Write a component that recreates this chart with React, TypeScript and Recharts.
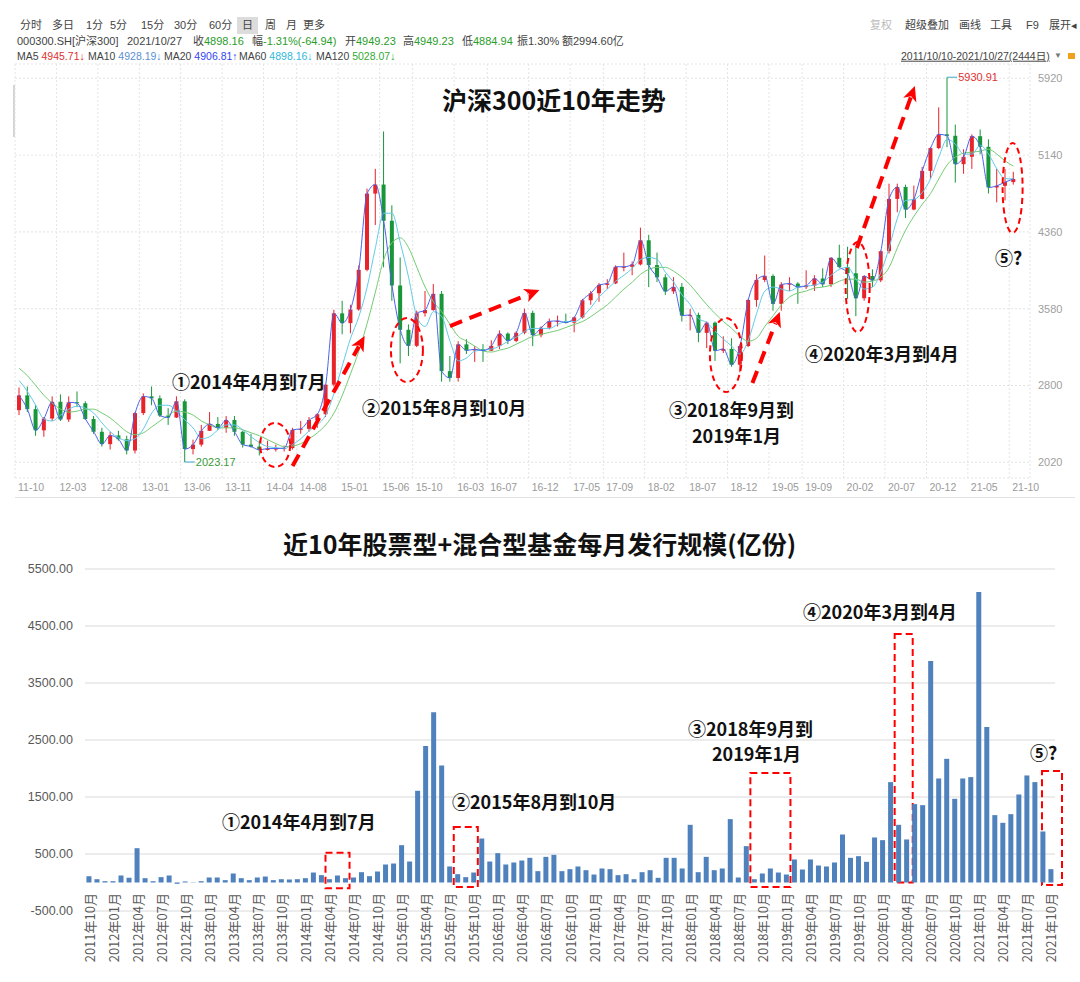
import React from "react";
import {
  ComposedChart,
  BarChart,
  Bar,
  Line,
  XAxis,
  YAxis,
  CartesianGrid,
  ReferenceLine,
  ReferenceDot,
  ReferenceArea,
} from "recharts";

// ---------- top chart: CSI 300, one candle per month (2011-10 .. 2021-10) ----------
const OPEN = [
  2550, 2700, 2560, 2345, 2465, 2635, 2455, 2630, 2620, 2460,
  2330, 2205, 2293, 2254, 2140, 2520, 2690, 2670, 2495, 2475,
  2640, 2155, 2200, 2340, 2410, 2370, 2450, 2330, 2200, 2180,
  2146, 2160, 2160, 2165, 2350, 2360, 2450, 2508, 2809, 3533,
  3434, 3572, 3975, 4749, 4841, 4473, 3816, 3366, 3203, 3534,
  3566, 3731, 2946, 2877, 3218, 3156, 3169, 3154, 3203, 3327,
  3253, 3336, 3538, 3311, 3387, 3452, 3456, 3439, 3492, 3666,
  3737, 3822, 3837, 4006, 4006, 4030, 4275, 4023, 3899, 3756,
  3802, 3510, 3517, 3335, 3438, 3153, 3172, 3011, 3201, 3669,
  3872, 3913, 3629, 3826, 3835, 3799, 3814, 3887, 3828, 4097,
  4003, 3940, 3686, 3912, 3868, 4164, 4695, 4816, 4587, 4695,
  4980, 5211, 5351, 5336, 5048, 5123, 5332, 5224, 4811, 4828,
  4866,
];
const HIGH = [
  2780, 2790, 2600, 2480, 2690, 2710, 2690, 2740, 2640, 2490,
  2370, 2330, 2340, 2290, 2530, 2720, 2790, 2700, 2570, 2690,
  2660, 2250, 2400, 2530, 2480, 2490, 2490, 2340, 2310, 2240,
  2240, 2200, 2190, 2370, 2440, 2480, 2520, 2810, 3570, 3660,
  3620, 4020, 4800, 5000, 5380, 4630, 4100, 3420, 3560, 3760,
  3830, 3760, 3100, 3250, 3270, 3200, 3220, 3260, 3360, 3340,
  3350, 3580, 3560, 3400, 3480, 3510, 3530, 3500, 3680, 3760,
  3840, 3880, 4020, 4150, 4060, 4403, 4330, 4150, 3930, 3900,
  3840, 3580, 3540, 3450, 3450, 3300, 3280, 3220, 3680, 3930,
  4120, 3930, 3850, 3900, 3850, 3970, 3920, 3990, 4100, 4230,
  4210, 4200, 3920, 3980, 4170, 4850, 4850, 4840, 4830, 5020,
  5220, 5625, 5930.91, 5450, 5200, 5350, 5400, 5300, 5000, 5000,
  4970,
];
const LOW = [
  2500, 2530, 2290, 2280, 2440, 2440, 2430, 2580, 2450, 2310,
  2180, 2150, 2240, 2100, 2110, 2500, 2600, 2480, 2400, 2470,
  2023.17, 2100, 2180, 2340, 2350, 2320, 2290, 2170, 2170, 2090,
  2140, 2130, 2130, 2150, 2310, 2330, 2370, 2480, 2790, 3320,
  3330, 3560, 3960, 4430, 4000, 3660, 3025, 3100, 3190, 3500,
  3560, 2840, 2840, 2840, 3120, 3040, 3040, 3150, 3170, 3220,
  3240, 3320, 3200, 3290, 3370, 3400, 3430, 3340, 3480, 3620,
  3650, 3780, 3830, 3960, 3920, 4020, 3800, 3850, 3720, 3730,
  3450, 3360, 3240, 3180, 3050, 3130, 2990, 2935, 3190, 3600,
  3850, 3560, 3560, 3760, 3630, 3780, 3760, 3800, 3800, 3990,
  3680, 3504, 3660, 3800, 3850, 4140, 4560, 4500, 4580, 4690,
  4900, 5200, 5220, 4860, 4950, 5000, 5150, 4750, 4660, 4680,
  4840,
];
const CLOSE = [
  2700, 2560, 2345, 2465, 2635, 2455, 2630, 2620, 2460, 2330,
  2205, 2293, 2254, 2140, 2520, 2690, 2670, 2495, 2475, 2640,
  2155, 2200, 2340, 2410, 2370, 2450, 2330, 2200, 2180, 2146,
  2160, 2160, 2165, 2350, 2360, 2450, 2508, 2809, 3533, 3434,
  3572, 3975, 4749, 4841, 4473, 3816, 3366, 3203, 3534, 3566,
  3731, 2946, 2877, 3218, 3156, 3169, 3154, 3203, 3327, 3253,
  3336, 3538, 3311, 3387, 3452, 3456, 3439, 3492, 3666, 3737,
  3822, 3837, 4006, 4006, 4030, 4275, 4023, 3899, 3756, 3802,
  3510, 3517, 3335, 3438, 3153, 3172, 3011, 3201, 3669, 3872,
  3913, 3629, 3826, 3835, 3799, 3814, 3887, 3828, 4097, 4003,
  3940, 3686, 3912, 3868, 4164, 4695, 4816, 4587, 4695, 4980,
  5211, 5351, 5336, 5048, 5123, 5332, 5224, 4811, 4828, 4866,
  4898.16,
];
const MA60 = [
  2850, 2740, 2600, 2460, 2440, 2500, 2560, 2590, 2570, 2520,
  2420, 2330, 2270, 2240, 2260, 2360, 2520, 2600, 2600, 2540,
  2450, 2370, 2260, 2280, 2350, 2400, 2400, 2350, 2280, 2220,
  2180, 2170, 2160, 2200, 2260, 2340, 2400, 2500, 2720, 3000,
  3280, 3500, 3800, 4200, 4550, 4550, 4250, 3900, 3500, 3400,
  3550, 3500, 3250, 3050, 3080, 3150, 3160, 3170, 3200, 3250,
  3290, 3350, 3380, 3380, 3380, 3420, 3450, 3450, 3500, 3590,
  3700, 3780, 3860, 3920, 3990, 4080, 4100, 4080, 3950, 3850,
  3720, 3620, 3480, 3440, 3350, 3270, 3200, 3120, 3260, 3530,
  3760, 3800, 3780, 3760, 3800, 3810, 3820, 3850, 3920, 3980,
  4000, 3880, 3780, 3800, 3950, 4200, 4500, 4680, 4690, 4760,
  4900, 5120, 5300, 5250, 5150, 5150, 5240, 5150, 5000, 4900,
  4898,
];
const MA120 = [
  2975, 2900, 2800, 2700, 2620, 2560, 2530, 2540, 2560, 2560,
  2520, 2470, 2400, 2330, 2300, 2320, 2380, 2440, 2500, 2540,
  2530, 2500, 2440, 2400, 2370, 2370, 2370, 2350, 2320, 2290,
  2250, 2210, 2180, 2185, 2210, 2260, 2320, 2400, 2520, 2700,
  2920, 3150, 3430, 3750, 4080, 4250, 4300, 4200, 4000, 3800,
  3650, 3550, 3420, 3300, 3250, 3200, 3150, 3140, 3160, 3180,
  3220, 3260, 3300, 3320, 3340, 3360, 3390, 3420, 3450, 3500,
  3560, 3620, 3700, 3780, 3850, 3930, 3980, 4000, 4000, 3960,
  3900, 3820, 3720, 3620, 3530, 3450, 3380, 3300, 3250, 3280,
  3400, 3510, 3620, 3700, 3740, 3760, 3790, 3800, 3820, 3860,
  3880, 3880, 3850, 3860, 3900, 4000, 4200, 4380, 4520, 4640,
  4750, 4900, 5040, 5120, 5160, 5170, 5180, 5200, 5150, 5080,
  5028.07,
];
const TOP_TICK_IDX = [0, 5, 10, 15, 20, 25, 30, 34, 39, 44, 48, 53, 57, 62, 67, 71, 76, 81, 86, 91, 95, 100, 105, 110, 115, 120];
const TOP_TICK_LABELS = [
  "11-10", "12-03", "12-08", "13-01", "13-06", "13-11", "14-04", "14-08", "15-01", "15-06", "15-10", "16-03", "16-07",
  "16-12", "17-05", "17-09", "18-02", "18-07", "18-12", "19-05", "19-09", "20-02", "20-07", "20-12", "21-05", "21-10",
];
const PRICE_TICKS = [2020, 2800, 3580, 4360, 5140, 5920];

// ---------- bottom chart: monthly issuance (亿份) ----------
const ISSUE = [
  110, 58, 23,
  23, 123, 82, 602, 76, 23, 94, 123, -23, 18, 5, 23,
  88, 88, 41, 158, 76, 41, 88, 105, 41, 58, 53, 58,
  76, 175, 129, 58, 123, 76, 88, 181, 111, 193, 316, 333,
  655, 368, 1609, 2393, 2989, 2053, 281, 146, 94, 175, 772, 368,
  515, 316, 351, 386, 433, 199, 450, 485, 199, 234, 281, 216,
  140, 246, 234, 129, 146, 58, 181, 216, 82, 433, 433, 246,
  1012, 181, 450, 216, 246, 1112, 88, 638, 58, 158, 246, 175,
  140, 404, 228, 404, 298, 281, 351, 842, 433, 462, 363, 790,
  743, 1761, 1012, 755, 1375, 1357, 3884, 1825, 2170, 1468, 1825, 1849,
  5095, 2726, 1182, 1047, 1199, 1544, 1878, 1761, 895, 234,
];
const ISSUE_TICKS = [-500, 500, 1500, 2500, 3500, 4500, 5500];

const MONTHS: string[] = [];
for (let k = 0; k < ISSUE.length; k++) {
  const t = 2011 * 12 + 9 + k;
  const yy = Math.floor(t / 12);
  const mm = (t % 12) + 1;
  MONTHS.push(`${yy}年${mm < 10 ? "0" + mm : mm}月`);
}

const priceData = CLOSE.map((c, i) => ({
  i,
  open: OPEN[i],
  high: HIGH[i],
  low: LOW[i],
  close: c,
  range: [LOW[i], HIGH[i]],
  ma60: MA60[i],
  ma120: MA120[i],
}));
const issueData = MONTHS.map((m, i) => ({ m, v: ISSUE[i] }));

const CJK = '"Noto Sans CJK SC", "Noto Sans", sans-serif';
const UI = '"Liberation Sans", "Noto Sans CJK SC", sans-serif';
const RED = "#ff0000";

const Candle = (props: any) => {
  const { x, y, width, height, payload } = props;
  if (!payload || height == null || isNaN(y)) return null;
  const top = Math.min(y, y + height);
  const h = Math.abs(height);
  const span = payload.high - payload.low || 1;
  const toY = (v: number) => top + ((payload.high - v) / span) * h;
  const up = payload.close >= payload.open;
  const color = up ? "#e8232a" : "#17963a";
  const cx = x + width / 2;
  const yo = toY(payload.open);
  const yc = toY(payload.close);
  return (
    <g>
      <line x1={cx} x2={cx} y1={top} y2={top + h} stroke={color} strokeWidth={1} />
      <rect x={x} y={Math.min(yo, yc)} width={width} height={Math.max(1, Math.abs(yo - yc))} fill={color} />
    </g>
  );
};

const DashArrow = (props: any) => {
  const { x1, y1, x2, y2 } = props;
  if ([x1, y1, x2, y2].some((v) => typeof v !== "number" || isNaN(v))) return null;
  const len = Math.hypot(x2 - x1, y2 - y1);
  const ux = (x2 - x1) / len;
  const uy = (y2 - y1) / len;
  const bx = x2 - ux * 15;
  const by = y2 - uy * 15;
  const pts = `${x2},${y2} ${bx - uy * 7},${by + ux * 7} ${bx + ux * 4},${by + uy * 4} ${bx + uy * 7},${by - ux * 7}`;
  return (
    <g>
      <line x1={x1} y1={y1} x2={bx + ux * 3} y2={by + uy * 3} stroke={RED} strokeWidth={4} strokeDasharray="13 8" />
      <polygon points={pts} fill={RED} />
    </g>
  );
};

const ellipse = (rx: number, ry: number) => (p: any) =>
  <ellipse cx={p.cx} cy={p.cy} rx={rx} ry={ry} fill="none" stroke={RED} strokeWidth={2} strokeDasharray="6 4" />;

const DashBox = (dx: number, dw: number) => (p: any) =>
  <rect x={p.x + dx} y={p.y} width={p.width + dw} height={p.height} fill="none" stroke={RED} strokeWidth={2} strokeDasharray="7 4" />;

const TopTick = (props: any) => {
  const { x, y, payload } = props;
  const idx = TOP_TICK_IDX.indexOf(Math.round(payload.value + 0.5));
  return (
    <text x={x + 3} y={y + 13} textAnchor="start" fontSize={10.5} fill="#9a9a9a" fontFamily="Liberation Sans Narrow, Liberation Sans, sans-serif">
      {TOP_TICK_LABELS[idx]}
    </text>
  );
};

const BottomTick = (props: any) => {
  const { x, y, payload } = props;
  const ty = y - 18;
  return (
    <text x={x} y={ty} transform={`rotate(-90 ${x} ${ty})`} textAnchor="end" dominantBaseline="central" fontSize={13} fill="#595959" fontFamily={CJK}>
      {payload.value}
    </text>
  );
};

const T = ({ x, y, c = "#444", s = 11, w = 400, u = false, f = UI, children }: any) => (
  <div
    style={{
      position: "absolute",
      left: x,
      top: y,
      transform: "translateY(-50%)",
      color: c,
      fontSize: s,
      fontWeight: w,
      fontFamily: f,
      whiteSpace: "nowrap",
      lineHeight: 1.2,
      textDecoration: u ? "underline" : "none",
      zIndex: 5,
    }}
  >
    {children}
  </div>
);

const Note = ({ x, y, children }: any) => (
  <T x={x} y={y} c="#111" s={18} w={700} f={CJK}>
    {children}
  </T>
);

export default function App() {
  const green = "#2a9d2a";
  return (
    <div style={{ position: "relative", width: 1080, height: 982, background: "#fff", overflow: "hidden" }}>
      <style>{"body{margin:0}"}</style>

      {/* toolbar rows */}
      <T x={20} y={26}>分时</T>
      <T x={52} y={26}>多日</T>
      <T x={86} y={26}>1分</T>
      <T x={110} y={26}>5分</T>
      <T x={141} y={26}>15分</T>
      <T x={174} y={26}>30分</T>
      <T x={209} y={26}>60分</T>
      <div style={{ position: "absolute", left: 237, top: 17, width: 21, height: 17, background: "#dcdcdc" }} />
      <T x={242} y={26}>日</T>
      <T x={265} y={26}>周</T>
      <T x={286} y={26}>月</T>
      <T x={303} y={26}>更多</T>
      <T x={870} y={26} c="#bbb">复权</T>
      <T x={905} y={26}>超级叠加</T>
      <T x={959} y={26}>画线</T>
      <T x={990} y={26}>工具</T>
      <T x={1026} y={26}>F9</T>
      <T x={1049} y={26}>展开◂</T>

      <T x={17} y={42}>000300.SH[沪深300]</T>
      <T x={127} y={42}>2021/10/27</T>
      <T x={193} y={42}>收<span style={{ color: green }}>4898.16</span></T>
      <T x={252} y={42}>幅<span style={{ color: green }}>-1.31%(-64.94)</span></T>
      <T x={345} y={42}>开<span style={{ color: green }}>4949.23</span></T>
      <T x={403} y={42}>高<span style={{ color: green }}>4949.23</span></T>
      <T x={462} y={42}>低<span style={{ color: green }}>4884.94</span></T>
      <T x={517} y={42}>振1.30%</T>
      <T x={562} y={42}>额2994.60亿</T>

      <T x={17} y={56} s={10.5}>MA5 <span style={{ color: "#e03030" }}>4945.71↓</span></T>
      <T x={88} y={56} s={10.5}>MA10 <span style={{ color: "#5b8fd0" }}>4928.19↓</span></T>
      <T x={164} y={56} s={10.5}>MA20 <span style={{ color: "#3344ee" }}>4906.81↑</span></T>
      <T x={239} y={56} s={10.5}>MA60 <span style={{ color: "#2fb8dc" }}>4898.16↓</span></T>
      <T x={316} y={56} s={10.5}>MA120 <span style={{ color: "#33aa33" }}>5028.07↓</span></T>
      <T x={901} y={56} s={10.5} u>2011/10/10-2021/10/27(2444日)</T>
      <T x={1054} y={56} c="#777" s={8}>▼</T>
      <div style={{ position: "absolute", left: 1068, top: 53, width: 7, height: 6, background: "#f0a020" }} />

      <div style={{ position: "absolute", left: 13, top: 85, width: 2, height: 52, background: "#d4d4d4" }} />
      <div style={{ position: "absolute", left: 15, top: 497, width: 1060, height: 1, background: "#e2e2e2" }} />

      {/* top chart */}
      <div style={{ position: "absolute", left: 0, top: 0 }}>
        <ComposedChart width={1080} height={500} data={priceData} margin={{ top: 64, right: 0, bottom: 0, left: 15 }}>
          <CartesianGrid stroke="#e4e4e4" strokeDasharray="2 2" />
          <XAxis
            dataKey="i"
            type="number"
            domain={[-0.5, 122]}
            allowDataOverflow
            ticks={TOP_TICK_IDX.map((i) => i - 0.5)}
            interval={0}
            height={22}
            tickSize={0}
            tickMargin={0}
            axisLine={false}
            tick={<TopTick />}
          />
          <YAxis
            orientation="right"
            width={50}
            domain={[1861, 6065]}
            allowDataOverflow
            ticks={PRICE_TICKS}
            interval={0}
            tickSize={0}
            tickMargin={8}
            axisLine={false}
            tick={{ fontSize: 11, fill: "#a0a0a0", fontFamily: "Liberation Sans, sans-serif" }}
          />
          <Line dataKey="ma120" stroke="#74cc74" strokeWidth={1} dot={false} isAnimationActive={false} type="monotone" />
          <Line dataKey="ma60" stroke="#62cbe8" strokeWidth={1} dot={false} isAnimationActive={false} type="monotone" />
          <Bar dataKey="range" barSize={4} shape={<Candle />} isAnimationActive={false} />
          <Line dataKey="close" stroke="#4a62ea" strokeWidth={1} dot={false} isAnimationActive={false} type="monotone" />

          <ReferenceDot
            x={20}
            y={2023.17}
            ifOverflow="visible"
            shape={(p: any) => (
              <g>
                <line x1={p.cx} y1={p.cy} x2={p.cx + 10} y2={p.cy} stroke="#3aa7c9" />
                <text x={p.cx + 11} y={p.cy + 4} fontSize={11} fill="#3a9a3a" fontFamily="Liberation Sans, sans-serif">2023.17</text>
              </g>
            )}
          />
          <ReferenceDot
            x={112}
            y={5930.91}
            ifOverflow="visible"
            shape={(p: any) => (
              <g>
                <line x1={p.cx} y1={p.cy} x2={p.cx + 10} y2={p.cy} stroke="#3aa7c9" />
                <text x={p.cx + 11} y={p.cy + 4} fontSize={11} fill="#e03030" fontFamily="Liberation Sans, sans-serif">5930.91</text>
              </g>
            )}
          />

          <ReferenceDot x={30.9} y={2196} ifOverflow="visible" shape={ellipse(15, 22)} />
          <ReferenceDot x={46.8} y={3160} ifOverflow="visible" shape={ellipse(16, 32)} />
          <ReferenceDot x={85.3} y={3110} ifOverflow="visible" shape={ellipse(16, 37)} />
          <ReferenceDot x={101.2} y={3800} ifOverflow="visible" shape={ellipse(12, 45)} />
          <ReferenceDot x={119.9} y={4806} ifOverflow="visible" shape={ellipse(10, 45)} />

          <ReferenceLine segment={[{ x: 33.0, y: 1983 }, { x: 41.7, y: 3303 }]} ifOverflow="visible" shape={<DashArrow />} />
          <ReferenceLine segment={[{ x: 52.0, y: 3404 }, { x: 62.8, y: 3770 }]} ifOverflow="visible" shape={<DashArrow />} />
          <ReferenceLine segment={[{ x: 88.5, y: 2825 }, { x: 91.8, y: 3547 }]} ifOverflow="visible" shape={<DashArrow />} />
          <ReferenceLine segment={[{ x: 101.1, y: 4197 }, { x: 108.1, y: 5842 }]} ifOverflow="visible" shape={<DashArrow />} />
        </ComposedChart>
      </div>

      <T x={442} y={99} c="#111" s={25} w={700} f={CJK}>沪深300近10年走势</T>
      <Note x={172} y={382}>①2014年4月到7月</Note>
      <Note x={362} y={408}>②2015年8月到10月</Note>
      <Note x={669} y={410}>③2018年9月到</Note>
      <Note x={692} y={436}>2019年1月</Note>
      <Note x={805} y={354}>④2020年3月到4月</Note>
      <Note x={995} y={258}>⑤?</Note>

      {/* bottom chart */}
      <T x={283} y={543} c="#111" s={25} w={700} f={CJK}>近10年股票型+混合型基金每月发行规模(亿份)</T>
      <div style={{ position: "absolute", left: 0, top: 0 }}>
        <BarChart width={1080} height={982} data={issueData} margin={{ top: 569, right: 25, bottom: 0, left: 0 }} barCategoryGap="18%">
          <CartesianGrid vertical={false} stroke="#d9d9d9" />
          <XAxis dataKey="m" interval={2} height={71} tickSize={0} tickMargin={0} axisLine={false} tick={<BottomTick />} />
          <YAxis
            width={85}
            domain={[-500, 5500]}
            ticks={ISSUE_TICKS}
            interval={0}
            tickSize={0}
            tickMargin={12}
            axisLine={false}
            tickFormatter={(v: number) => v.toFixed(2)}
            tick={{ fontSize: 12.5, fill: "#595959", fontFamily: "Liberation Sans, sans-serif" }}
          />
          <Bar dataKey="v" fill="#4f81bd" isAnimationActive={false} />
          <ReferenceArea x1={MONTHS[30]} x2={MONTHS[32]} y1={-100} y2={520} ifOverflow="visible" shape={DashBox(0, 0)} />
          <ReferenceArea x1={MONTHS[46]} x2={MONTHS[48]} y1={-79} y2={974} ifOverflow="visible" shape={DashBox(0, 0)} />
          <ReferenceArea x1={MONTHS[83]} x2={MONTHS[87]} y1={-79} y2={1921} ifOverflow="visible" shape={DashBox(0, 0)} />
          <ReferenceArea x1={MONTHS[101]} x2={MONTHS[102]} y1={0} y2={4360} ifOverflow="visible" shape={DashBox(0, 2)} />
          <ReferenceArea x1={MONTHS[120]} x2={MONTHS[120]} y1={-44} y2={1958} ifOverflow="visible" shape={DashBox(-5, 12)} />
        </BarChart>
      </div>
      <Note x={222} y={822}>①2014年4月到7月</Note>
      <Note x={452} y={802}>②2015年8月到10月</Note>
      <Note x={688} y={729}>③2018年9月到</Note>
      <Note x={712} y={754}>2019年1月</Note>
      <Note x={803} y={612}>④2020年3月到4月</Note>
      <Note x={1030} y={753}>⑤?</Note>
    </div>
  );
}
